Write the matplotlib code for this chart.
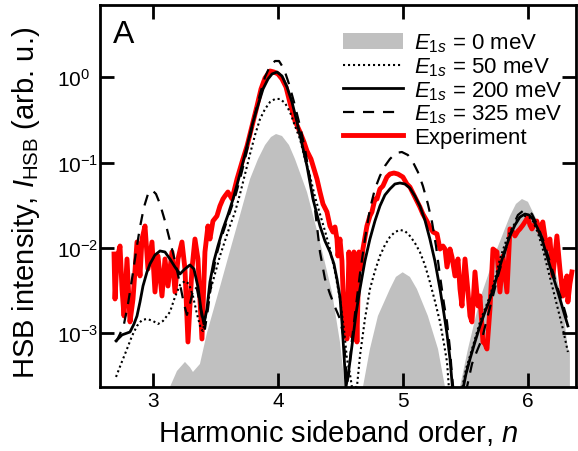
import numpy as np
import matplotlib
matplotlib.use('Agg')
import matplotlib.pyplot as plt
from matplotlib.patches import Patch
from matplotlib.lines import Line2D
from matplotlib.ticker import NullLocator

plt.rcParams['font.family'] = ['Liberation Sans', 'DejaVu Sans']
plt.rcParams['mathtext.fontset'] = 'custom'
plt.rcParams['mathtext.rm'] = 'Liberation Sans'
plt.rcParams['mathtext.it'] = 'Liberation Sans:italic'
plt.rcParams['mathtext.bf'] = 'Liberation Sans:bold'

# ---------------- data (n, log10 intensity) ----------------
# E1s = 0 meV (gray filled)
n_e0 = [3.092, 3.132, 3.188, 3.252, 3.292, 3.316, 3.372, 3.428, 3.532, 3.612, 3.693,
        3.773, 3.837, 3.893, 3.941, 3.981, 4.029, 4.085, 4.133, 4.229, 4.333, 4.429,
        4.493, 4.533, 4.557, 4.653, 4.677, 4.733, 4.797, 4.893, 4.941, 4.995, 5.053,
        5.109, 5.197, 5.278, 5.334, 5.358, 5.430, 5.454, 5.518, 5.614, 5.750, 5.854,
        5.902, 5.950, 5.998, 6.053, 6.174, 6.270, 6.318, 6.334]
lg_e0 = [-5.0, -3.631, -3.443, -3.337, -3.40, -3.455, -3.361, -2.997, -2.459, -2.036, -1.614,
         -1.192, -0.958, -0.794, -0.700, -0.665, -0.688, -0.794, -0.958, -1.345, -1.931, -2.517,
         -3.103, -3.631, -5.0, -5.0, -3.631, -3.185, -2.798, -2.482, -2.34, -2.286, -2.34,
         -2.482, -2.798, -3.185, -3.631, -5.0, -5.0, -3.631, -3.185, -2.599, -2.013, -1.626,
         -1.485, -1.427, -1.46, -1.626, -2.013, -2.599, -3.185, -3.21]

# E1s = 50 meV (dotted)
n_e50 = [2.700, 2.740, 2.788, 2.828, 2.868, 2.908, 2.948, 2.996, 3.036, 3.076, 3.132,
         3.172, 3.212, 3.252, 3.284, 3.316, 3.348, 3.380, 3.396, 3.420, 3.452, 3.492,
         3.532, 3.572, 3.612, 3.653, 3.693, 3.733, 3.773, 3.813, 3.853, 3.893, 3.933,
         3.973, 4.013, 4.053, 4.093, 4.133, 4.173, 4.213, 4.253, 4.293, 4.333, 4.373,
         4.413, 4.453, 4.493, 4.525, 4.549, 4.573, 4.589, 4.629, 4.653, 4.693, 4.733,
         4.773, 4.813, 4.853, 4.893, 4.933, 4.973, 5.013, 5.053, 5.093, 5.133, 5.173,
         5.213, 5.253, 5.294, 5.326, 5.350, 5.366, 5.414, 5.470, 5.502, 5.534, 5.574,
         5.614, 5.654, 5.694, 5.734, 5.774, 5.814, 5.854, 5.894, 5.934, 5.974, 6.006,
         6.038, 6.078, 6.117, 6.157, 6.198, 6.238, 6.278, 6.318]
lg_e50 = [-3.513, -3.361, -3.185, -3.033, -2.915, -2.845, -2.833, -2.857, -2.892, -2.857, -2.751,
          -2.575, -2.435, -2.388, -2.423, -2.564, -2.775, -2.950, -2.974, -2.775, -2.517, -2.306,
          -2.095, -1.919, -1.743, -1.579, -1.368, -1.134, -0.899, -0.676, -0.489, -0.372, -0.290,
          -0.254, -0.254, -0.301, -0.407, -0.571, -0.723, -0.958, -1.157, -1.403, -1.603, -1.802,
          -2.013, -2.282, -2.599, -2.950, -3.303, -3.478, -3.631, -3.631, -3.268, -2.833, -2.482,
          -2.271, -2.095, -1.966, -1.872, -1.814, -1.790, -1.802, -1.860, -1.942, -2.048, -2.200,
          -2.400, -2.622, -2.868, -3.126, -3.337, -3.654, -4.5, -3.654, -3.420, -3.268, -3.068,
          -2.868, -2.716, -2.564, -2.364, -2.130, -1.954, -1.814, -1.708, -1.638, -1.626, -1.638,
          -1.685, -1.825, -2.013, -2.247, -2.482, -2.716, -2.950, -3.221]

# E1s = 200 meV (solid)
n_e200 = [2.700, 2.748, 2.812, 2.844, 2.868, 2.892, 2.916, 2.948, 2.972, 3.012, 3.052,
          3.092, 3.132, 3.172, 3.212, 3.252, 3.292, 3.324, 3.356, 3.380, 3.404, 3.428,
          3.452, 3.484, 3.516, 3.556, 3.596, 3.637, 3.677, 3.717, 3.757, 3.797, 3.837,
          3.877, 3.917, 3.949, 3.989, 4.029, 4.069, 4.109, 4.149, 4.189, 4.229, 4.277,
          4.333, 4.373, 4.413, 4.445, 4.469, 4.493, 4.509, 4.525, 4.541, 4.565, 4.589,
          4.621, 4.653, 4.693, 4.733, 4.773, 4.813, 4.853, 4.893, 4.933, 4.973, 5.013,
          5.053, 5.093, 5.133, 5.173, 5.213, 5.253, 5.294, 5.326, 5.350, 5.374, 5.390,
          5.398, 5.430, 5.478, 5.502, 5.534, 5.574, 5.614, 5.654, 5.694, 5.734, 5.774,
          5.814, 5.854, 5.894, 5.934, 5.974, 6.006, 6.038, 6.078, 6.117, 6.157, 6.198,
          6.238, 6.278, 6.318]
lg_e200 = [-3.09, -3.02, -2.986, -2.892, -2.798, -2.634, -2.447, -2.282, -2.188, -2.083, -2.036,
           -2.048, -2.130, -2.224, -2.306, -2.247, -2.200, -2.247, -2.458, -2.716, -2.892, -2.716,
           -2.400, -2.154, -1.978, -1.779, -1.614, -1.427, -1.216, -0.993, -0.759, -0.524, -0.325,
           -0.137, -0.020, 0.039, 0.062, 0.015, -0.114, -0.290, -0.524, -0.782, -1.040, -1.427,
           -1.743, -1.919, -2.048, -2.188, -2.364, -2.575, -2.868, -3.244, -3.631, -3.420, -3.150,
           -2.775, -2.482, -2.153, -1.896, -1.685, -1.509, -1.380, -1.309, -1.251, -1.239, -1.251,
           -1.298, -1.392, -1.509, -1.673, -1.896, -2.153, -2.482, -2.775, -3.009, -3.303, -3.572,
           -3.72, -4.5, -3.654, -3.478, -3.303, -3.103, -2.915, -2.751, -2.599, -2.411, -2.212,
           -2.025, -1.860, -1.732, -1.638, -1.603, -1.614, -1.662, -1.778, -1.931, -2.130, -2.329,
           -2.517, -2.716, -2.915]

# E1s = 325 meV (dashed)
n_e325 = [2.700, 2.732, 2.764, 2.796, 2.828, 2.860, 2.892, 2.924, 2.956, 2.988, 3.020,
          3.052, 3.092, 3.132, 3.172, 3.212, 3.244, 3.268, 3.292, 3.324, 3.348, 3.372,
          3.396, 3.412, 3.436, 3.468, 3.500, 3.532, 3.572, 3.612, 3.653, 3.693, 3.733,
          3.773, 3.813, 3.853, 3.893, 3.933, 3.973, 4.005, 4.045, 4.085, 4.125, 4.173,
          4.213, 4.253, 4.293, 4.333, 4.373, 4.413, 4.453, 4.493, 4.517, 4.533, 4.549,
          4.565, 4.581, 4.613, 4.653, 4.693, 4.733, 4.773, 4.813, 4.853, 4.893, 4.941,
          4.989, 5.037, 5.077, 5.117, 5.157, 5.197, 5.230, 5.262, 5.294, 5.326, 5.350,
          5.374, 5.390, 5.406, 5.454, 5.510, 5.550, 5.590, 5.630, 5.670, 5.718, 5.758,
          5.798, 5.838, 5.878, 5.918, 5.958, 5.998, 6.030, 6.069, 6.117, 6.157, 6.198,
          6.238, 6.278, 6.318]
lg_e325 = [-3.103, -3.009, -2.892, -2.657, -2.364, -2.048, -1.755, -1.521, -1.368, -1.321, -1.368,
           -1.485, -1.685, -1.919, -2.153, -2.423, -2.657, -2.786, -2.657, -2.447, -2.482, -2.657,
           -2.892, -2.950, -2.716, -2.364, -2.107, -1.931, -1.755, -1.579, -1.403, -1.192, -0.958,
           -0.700, -0.431, -0.196, 0.004, 0.132, 0.191, 0.191, 0.097, -0.079, -0.290, -0.571,
           -0.840, -1.192, -1.544, -2.048, -2.364, -2.540, -2.693, -2.833, -3.009, -3.244, -3.596,
           -3.478, -3.185, -2.775, -2.306, -1.896, -1.544, -1.309, -1.157, -1.040, -0.958, -0.887,
           -0.876, -0.911, -0.993, -1.110, -1.274, -1.485, -1.696, -1.978, -2.329, -2.657, -2.868,
           -3.185, -3.502, -3.72, -4.5, -3.631, -3.361, -3.209, -3.068, -2.833, -2.564, -2.329,
           -2.130, -1.931, -1.743, -1.614, -1.567, -1.567, -1.603, -1.720, -1.896, -2.083, -2.282,
           -2.482, -2.657, -2.868]

# Experiment (red)
n_exp = [2.684, 2.692, 2.708, 2.732, 2.748, 2.764, 2.788, 2.812, 2.836, 2.868, 2.892,
         2.908, 2.932, 2.956, 2.988, 3.012, 3.036, 3.068, 3.092, 3.116, 3.148, 3.172,
         3.196, 3.228, 3.252, 3.276, 3.308, 3.332, 3.356, 3.388, 3.412, 3.436, 3.452,
         3.476, 3.508, 3.532, 3.556, 3.572, 3.596, 3.629, 3.669, 3.709, 3.749, 3.789,
         3.829, 3.861, 3.893, 3.933, 3.965, 3.997, 4.029, 4.061, 4.093, 4.133, 4.173,
         4.205, 4.229, 4.261, 4.285, 4.309, 4.333, 4.357, 4.389, 4.413, 4.437, 4.453,
         4.469, 4.477, 4.493, 4.509, 4.517, 4.533, 4.549, 4.565, 4.581, 4.589, 4.605,
         4.621, 4.629, 4.645, 4.661, 4.677, 4.709, 4.733, 4.749, 4.773, 4.789, 4.813,
         4.837, 4.869, 4.893, 4.925, 4.957, 4.997, 5.029, 5.053, 5.085, 5.109, 5.133,
         5.157, 5.189, 5.213, 5.238, 5.270, 5.294, 5.318, 5.334, 5.350, 5.374, 5.390,
         5.414, 5.438, 5.454, 5.470, 5.494, 5.518, 5.534, 5.550, 5.574, 5.598, 5.614,
         5.638, 5.654, 5.670, 5.694, 5.718, 5.750, 5.774, 5.798, 5.830, 5.854, 5.878,
         5.894, 5.918, 5.934, 5.958, 5.974, 5.998, 6.014, 6.030, 6.053, 6.069, 6.093,
         6.117, 6.149, 6.174, 6.198, 6.230, 6.254, 6.278, 6.294, 6.310, 6.318, 6.334,
         6.350]
lg_exp = [-2.072, -2.599, -2.130, -1.978, -2.482, -2.798, -2.130, -2.868, -2.599, -1.931, -2.329,
          -1.896, -1.743, -2.247, -1.931, -2.517, -2.095, -2.564, -2.130, -2.447, -2.048, -2.517,
          -2.130, -1.931, -2.247, -3.103, -2.247, -1.896, -2.130, -3.068, -2.048, -1.743, -1.896,
          -1.685, -1.626, -1.509, -1.427, -1.392, -1.345, -1.427, -1.192, -0.993, -0.805, -0.571,
          -0.336, -0.137, -0.008, 0.074, 0.062, 0.039, -0.020, -0.114, -0.301, -0.512, -0.641,
          -0.759, -0.864, -0.958, -1.075, -1.192, -1.345, -1.485, -1.579, -1.743, -1.814, -1.755,
          -1.896, -2.095, -1.896, -2.153, -2.482, -2.950, -3.068, -2.048, -2.599, -3.033, -2.048,
          -2.599, -3.103, -2.048, -2.247, -2.013, -1.743, -1.626, -1.579, -1.427, -1.427, -1.309,
          -1.274, -1.169, -1.134, -1.122, -1.134, -1.169, -1.251, -1.286, -1.380, -1.450, -1.521,
          -1.603, -1.685, -1.755, -1.814, -1.837, -2.013, -1.978, -2.013, -2.224, -2.013, -2.107,
          -2.329, -2.130, -2.482, -2.681, -2.130, -2.517, -2.798, -2.868, -2.282, -2.681, -2.564,
          -3.103, -3.126, -3.185, -2.716, -2.013, -2.048, -2.517, -2.095, -2.517, -1.778, -1.814,
          -1.860, -1.802, -1.778, -1.732, -1.696, -1.638, -1.732, -1.778, -1.720, -1.685, -1.814,
          -1.696, -2.013, -1.896, -2.329, -1.860, -2.247, -2.564, -2.423, -2.329, -2.634, -2.423,
          -2.282]

x_ticks = [3, 4, 5, 6]
y_ticks = [1e0, 1e-1, 1e-2, 1e-3]
y_tick_labels = ['10$^{0}$', '10$^{-1}$', '10$^{-2}$', '10$^{-3}$']
legend_labels = ['$E_{1s}$ = 0 meV', '$E_{1s}$ = 50 meV', '$E_{1s}$ = 200 meV',
                 '$E_{1s}$ = 325 meV', 'Experiment']

# ---------------- figure ----------------
fig = plt.figure(figsize=(5.78, 4.52), dpi=100)
ax = fig.add_axes([0.1730, 0.1416, 0.8235, 0.8451])
ax.set_yscale('log')

gray = '#c0c0c0'
ax.fill_between(n_e0, 1e-6, 10 ** np.array(lg_e0), color=gray, lw=0, zorder=1)
ax.plot(n_exp, 10 ** np.array(lg_exp), color='#ff0000', lw=3.5, zorder=2,
        solid_joinstyle='round')
ax.plot(n_e50, 10 ** np.array(lg_e50), color='black', lw=1.5, ls=(0, (1, 1.4)), zorder=3)
ax.plot(n_e200, 10 ** np.array(lg_e200), color='black', lw=2.0, zorder=4)
ax.plot(n_e325, 10 ** np.array(lg_e325), color='black', lw=1.6, ls=(0, (5, 4)), zorder=3)

ax.set_xlim(2.5717, 6.3827)
ax.set_ylim(10 ** -3.631, 10 ** 0.8476)
ax.set_xticks(x_ticks)
ax.set_xticklabels([str(t) for t in x_ticks])
ax.set_yticks(y_ticks)
ax.set_yticklabels(y_tick_labels)
ax.yaxis.set_minor_locator(NullLocator())
ax.xaxis.set_minor_locator(NullLocator())
ax.tick_params(direction='in', top=True, right=True, length=10, width=2,
               labelsize=15, color='black')
ax.tick_params(axis='x', pad=3)
ax.tick_params(axis='y', pad=31)
for lab in ax.get_yticklabels():
    lab.set_horizontalalignment('left')
for sp in ax.spines.values():
    sp.set_linewidth(2)

ax.set_xlabel('Harmonic sideband order, $n$', fontsize=21, labelpad=5)
ax.set_ylabel('HSB intensity, $I_{\\mathrm{HSB}}$ (arb. u.)', fontsize=21)
ax.yaxis.set_label_coords(-0.121, 0.485)

ax.text(0.027, 0.903, 'A', transform=ax.transAxes, fontsize=23, ha='left', va='baseline')

handles = [Patch(facecolor=gray, edgecolor='none'),
           Line2D([], [], color='black', lw=1.5, ls=(0, (1, 1.4))),
           Line2D([], [], color='black', lw=2.0),
           Line2D([], [], color='black', lw=1.6, ls=(0, (5, 4))),
           Line2D([], [], color='#ff0000', lw=3.5)]
leg = ax.legend(handles, legend_labels, loc='upper left', bbox_to_anchor=(0.51, 0.93),
                frameon=False, fontsize=16, handlelength=2.7, handletextpad=0.5,
                labelspacing=0.05, borderpad=0, borderaxespad=0)

fig.savefig('out.png', dpi=100)
